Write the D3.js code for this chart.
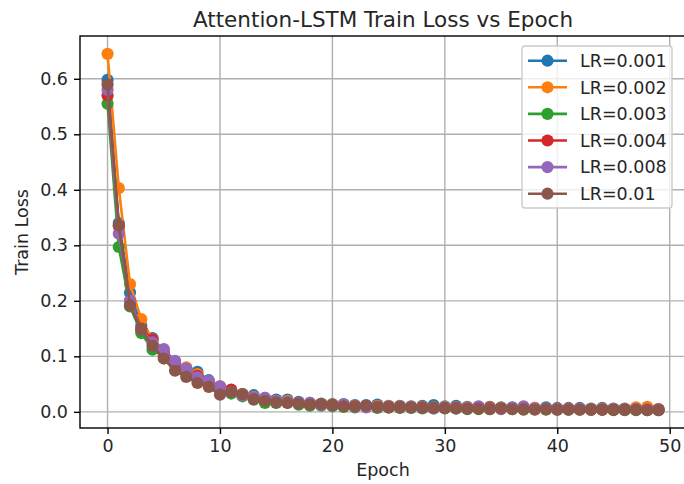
<!DOCTYPE html>
<html>
<head>
<meta charset="utf-8">
<script src="https://d3js.org/d3.v7.min.js"></script>
<style>
  body { margin: 0; background: #fff; }
  svg text { font-family: "DejaVu Sans", sans-serif; fill: #262626; }
</style>
</head>
<body>
<div id="chart"></div>
<script>
// epochs 0..49
var epochs = d3.range(0, 50);

var seriesNames = ["LR=0.001", "LR=0.002", "LR=0.003", "LR=0.004", "LR=0.008", "LR=0.01"];
var seriesColors = ["#1f77b4", "#ff7f0e", "#2ca02c", "#d62728", "#9467bd", "#8c564b"];

var lr0001 = [0.598, 0.340, 0.215, 0.155, 0.133, 0.110, 0.090, 0.078, 0.072, 0.057,
              0.045, 0.037, 0.032, 0.030, 0.025, 0.022, 0.022, 0.018, 0.016, 0.015,
              0.014, 0.014, 0.012, 0.012, 0.013, 0.011, 0.011, 0.010, 0.011, 0.012,
              0.010, 0.011, 0.009, 0.009, 0.009, 0.008, 0.008, 0.008, 0.007, 0.008,
              0.007, 0.007, 0.007, 0.006, 0.007, 0.006, 0.006, 0.005, 0.005, 0.005];
var lr0002 = [0.645, 0.403, 0.230, 0.167, 0.130, 0.112, 0.088, 0.080, 0.068, 0.055,
              0.046, 0.038, 0.032, 0.027, 0.024, 0.020, 0.020, 0.016, 0.016, 0.014,
              0.013, 0.013, 0.011, 0.010, 0.011, 0.010, 0.010, 0.009, 0.009, 0.008,
              0.009, 0.008, 0.008, 0.007, 0.008, 0.007, 0.007, 0.006, 0.007, 0.006,
              0.006, 0.006, 0.005, 0.005, 0.006, 0.005, 0.005, 0.008, 0.009, 0.005];
var lr0003 = [0.555, 0.297, 0.190, 0.142, 0.112, 0.100, 0.085, 0.070, 0.060, 0.050,
              0.042, 0.033, 0.028, 0.022, 0.016, 0.016, 0.017, 0.013, 0.011, 0.011,
              0.010, 0.009, 0.008, 0.009, 0.007, 0.008, 0.007, 0.007, 0.006, 0.006,
              0.006, 0.006, 0.005, 0.005, 0.005, 0.006, 0.005, 0.004, 0.005, 0.004,
              0.004, 0.004, 0.004, 0.004, 0.004, 0.003, 0.003, 0.003, 0.003, 0.003];
var lr0004 = [0.570, 0.335, 0.200, 0.150, 0.130, 0.105, 0.090, 0.075, 0.065, 0.052,
              0.042, 0.040, 0.030, 0.025, 0.022, 0.018, 0.017, 0.016, 0.014, 0.013,
              0.012, 0.011, 0.010, 0.010, 0.009, 0.009, 0.008, 0.008, 0.008, 0.007,
              0.007, 0.007, 0.006, 0.006, 0.007, 0.006, 0.006, 0.005, 0.005, 0.005,
              0.005, 0.005, 0.005, 0.004, 0.004, 0.004, 0.004, 0.004, 0.004, 0.004];
var lr0008 = [0.580, 0.321, 0.200, 0.148, 0.125, 0.113, 0.092, 0.078, 0.062, 0.055,
              0.046, 0.036, 0.030, 0.026, 0.025, 0.020, 0.018, 0.016, 0.016, 0.012,
              0.011, 0.013, 0.009, 0.008, 0.009, 0.008, 0.009, 0.008, 0.007, 0.006,
              0.008, 0.006, 0.007, 0.010, 0.006, 0.005, 0.007, 0.010, 0.006, 0.006,
              0.005, 0.005, 0.006, 0.004, 0.005, 0.005, 0.004, 0.005, 0.004, 0.004];
var lr001  = [0.590, 0.336, 0.192, 0.148, 0.119, 0.096, 0.074, 0.063, 0.052, 0.045,
              0.031, 0.036, 0.032, 0.023, 0.020, 0.017, 0.016, 0.015, 0.013, 0.014,
              0.012, 0.010, 0.010, 0.011, 0.009, 0.008, 0.009, 0.008, 0.007, 0.007,
              0.007, 0.006, 0.006, 0.006, 0.005, 0.006, 0.005, 0.005, 0.004, 0.005,
              0.004, 0.004, 0.004, 0.004, 0.004, 0.004, 0.004, 0.004, 0.003, 0.003];

var seriesValues = [lr0001, lr0002, lr0003, lr0004, lr0008, lr001];

var xTicks = [0, 10, 20, 30, 40, 50];
var yTicks = [0.0, 0.1, 0.2, 0.3, 0.4, 0.5, 0.6];

var FONT = 17.5, TITLE_FONT = 21.5, LW = 2.6, MR = 6.1;

// figure size and plot box (the right spine falls just outside the figure)
var W = 684, H = 484;
var margin = {top: 36, right: -2, bottom: 56, left: 80};
var width = W - margin.left - margin.right,
    height = H - margin.top - margin.bottom;

var svg = d3.select("#chart").append("svg")
    .attr("width", W)
    .attr("height", H);

var g = svg.append("g")
    .attr("transform", "translate(" + margin.left + "," + margin.top + ")");

// scales with 5% padding like matplotlib
var yMax = d3.max(seriesValues, function(s) { return d3.max(s); });
var yMin = d3.min(seriesValues, function(s) { return d3.min(s); });
var yPad = (yMax - yMin) * 0.05;
var x = d3.scaleLinear().domain([-2.45, 51.45]).range([0, width]);
var y = d3.scaleLinear().domain([yMin - yPad, yMax + yPad]).range([height, 0]);

// grid
g.append("g").selectAll("line")
    .data(xTicks).enter().append("line")
    .attr("x1", function(d) { return x(d); }).attr("x2", function(d) { return x(d); })
    .attr("y1", 0).attr("y2", height)
    .attr("stroke", "#b0b0b0").attr("stroke-width", 1.4);
g.append("g").selectAll("line")
    .data(yTicks).enter().append("line")
    .attr("x1", 0).attr("x2", width)
    .attr("y1", function(d) { return y(d); }).attr("y2", function(d) { return y(d); })
    .attr("stroke", "#b0b0b0").attr("stroke-width", 1.4);

// lines + markers
var line = d3.line()
    .x(function(d, i) { return x(epochs[i]); })
    .y(function(d) { return y(d); });

seriesValues.forEach(function(vals, k) {
    var sg = g.append("g").attr("class", "series");
    sg.append("path")
        .attr("d", line(vals))
        .attr("fill", "none")
        .attr("stroke", seriesColors[k])
        .attr("stroke-width", LW)
        .attr("stroke-linejoin", "round")
        .attr("stroke-linecap", "square");
    sg.selectAll("circle")
        .data(vals).enter().append("circle")
        .attr("cx", function(d, i) { return x(epochs[i]); })
        .attr("cy", function(d) { return y(d); })
        .attr("r", MR)
        .attr("fill", seriesColors[k]);
});

// axes
var xAxis = d3.axisBottom(x).tickValues(xTicks).tickSize(6).tickPadding(6)
    .tickFormat(d3.format("d"));
var yAxis = d3.axisLeft(y).tickValues(yTicks).tickSize(6).tickPadding(6)
    .tickFormat(d3.format(".1f"));

var gx = g.append("g").attr("transform", "translate(0," + height + ")").call(xAxis);
var gy = g.append("g").call(yAxis);
[gx, gy].forEach(function(a) {
    a.select(".domain").remove();
    a.selectAll(".tick line").attr("stroke", "#000").attr("stroke-width", 1.4);
    a.selectAll(".tick text").attr("font-size", FONT + "px").attr("fill", "#262626");
});

// spines
g.append("rect")
    .attr("x", 0).attr("y", 0)
    .attr("width", width).attr("height", height)
    .attr("fill", "none")
    .attr("stroke", "#000")
    .attr("stroke-width", 1.4);

// title and labels
svg.append("text")
    .attr("x", margin.left + width / 2).attr("y", 27)
    .attr("text-anchor", "middle")
    .attr("font-size", TITLE_FONT + "px")
    .text("Attention-LSTM Train Loss vs Epoch");

svg.append("text")
    .attr("x", margin.left + width / 2).attr("y", 476)
    .attr("text-anchor", "middle")
    .attr("font-size", FONT + "px")
    .text("Epoch");

svg.append("text")
    .attr("transform", "translate(27.5," + (margin.top + height / 2) + ") rotate(-90)")
    .attr("text-anchor", "middle")
    .attr("font-size", FONT + "px")
    .text("Train Loss");

// legend
var legend = svg.append("g").attr("transform", "translate(522,46)");
legend.append("rect")
    .attr("width", 150).attr("height", 162)
    .attr("rx", 3).attr("ry", 3)
    .attr("fill", "#fff").attr("fill-opacity", 0.8)
    .attr("stroke", "#cccccc").attr("stroke-width", 1.4);

var rows = legend.selectAll("g.row")
    .data(seriesNames).enter().append("g")
    .attr("class", "row")
    .attr("transform", function(d, i) { return "translate(0," + (14.7 + i * 26.6) + ")"; });
rows.append("line")
    .attr("x1", 6).attr("x2", 45)
    .attr("stroke", function(d, i) { return seriesColors[i]; })
    .attr("stroke-width", LW);
rows.append("circle")
    .attr("cx", 25.5).attr("r", MR)
    .attr("fill", function(d, i) { return seriesColors[i]; });
rows.append("text")
    .attr("x", 58).attr("dy", "0.36em")
    .attr("font-size", FONT + "px")
    .text(function(d) { return d; });
</script>
</body>
</html>
